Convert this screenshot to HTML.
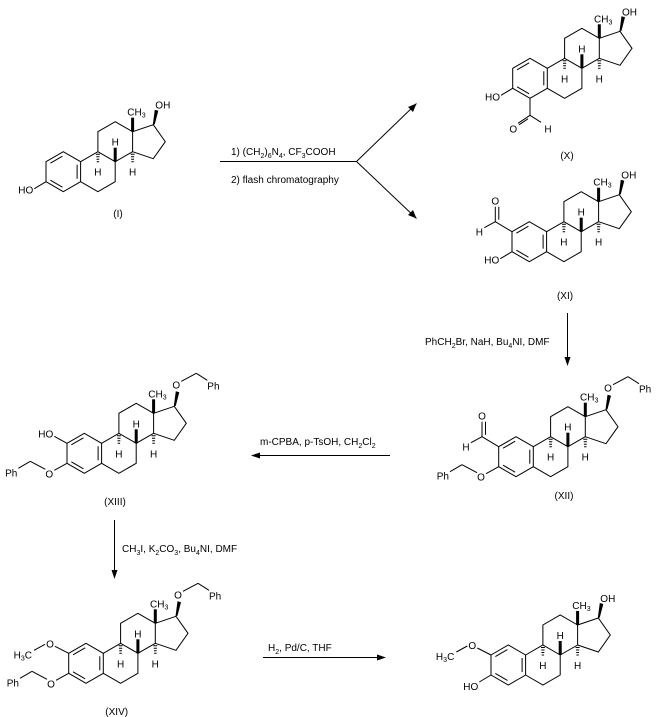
<!DOCTYPE html>
<html><head><meta charset="utf-8"><style>
html,body{margin:0;padding:0;background:#fff;}
svg{display:block;}
text{font-family:"Liberation Sans",Arial,sans-serif;font-size:10px;fill:#000;}
.sub{font-size:7px;}
</style></head><body>
<svg width="657" height="717" viewBox="0 0 657 717" xmlns="http://www.w3.org/2000/svg">
<defs>
<g id="core" stroke="#000" stroke-width="1" fill="none">
<polygon points="-17.3,-10 0,-20 17.3,-10 17.3,10 0,20 -17.3,10"/>
<line x1="-12.95" y1="-8.47" x2="-0.85" y2="-15.47"/>
<line x1="13.8" y1="-7" x2="13.8" y2="7"/>
<line x1="-12.95" y1="8.47" x2="-0.85" y2="15.47"/>
<polyline points="17.3,-10 34.6,-20 51.9,-10 51.9,10 34.6,20 17.3,10"/>
<polyline points="34.6,-20 34.6,-40 51.9,-50 69.3,-40 69.3,-20 51.9,-10"/>
<polyline points="69.3,-40 90,-47 102,-30 90,-13 69.3,-20"/>
<rect x="67.8" y="-54" width="3" height="14" fill="#000" stroke="none"/>
<rect x="50.4" y="-24" width="3" height="14" fill="#000" stroke="none"/>
<path d="M32.6,-17.5h4M33,-15h3.2M33.2,-12.5h2.8M33.4,-10h2.4" />
<path d="M67.3,-17.5h4M67.7,-15h3.2M67.9,-12.5h2.8M68.1,-10h2.4" />
<polygon points="89.5,-47 91.5,-47.5 95,-61 91.5,-62" fill="#000" stroke="none"/>
</g>
</defs>

<g stroke="#000" stroke-width="1" fill="none">
<!-- arrows -->
<line x1="220" y1="161.5" x2="356.5" y2="161.5"/>
<line x1="356.5" y1="161.5" x2="416.5" y2="103.5"/>
<line x1="356.5" y1="161.5" x2="416.5" y2="218.5"/>
<line x1="567.5" y1="313" x2="567.5" y2="362"/>
<line x1="390" y1="455.5" x2="255" y2="455.5"/>
<line x1="114.5" y1="520" x2="114.5" y2="575"/>
<line x1="263" y1="657.5" x2="382" y2="657.5"/>
</g>
<g fill="#000">
<polygon points="416.5,103.5 408,107 413,112"/>
<polygon points="416.5,218.5 413,210 408,215"/>
<polygon points="567.5,366 564.5,357 570.5,357"/>
<polygon points="251,455.5 260,452.5 260,458.5"/>
<polygon points="114.5,579 111.5,570 117.5,570"/>
<polygon points="386,657.5 377,654.5 377,660.5"/>
</g>
<text x="231" y="155">1) (CH<tspan class="sub" dy="3">2</tspan><tspan dy="-3">)</tspan><tspan class="sub" dy="3">6</tspan><tspan dy="-3">N</tspan><tspan class="sub" dy="3">4</tspan><tspan dy="-3">, CF</tspan><tspan class="sub" dy="3">3</tspan><tspan dy="-3">COOH</tspan></text>
<text x="231" y="183">2) flash chromatography</text>
<text x="425" y="345">PhCH<tspan class="sub" dy="3">2</tspan><tspan dy="-3">Br, NaH, Bu</tspan><tspan class="sub" dy="3">4</tspan><tspan dy="-3">NI, DMF</tspan></text>
<text x="260" y="445">m-CPBA, p-TsOH, CH<tspan class="sub" dy="3">2</tspan><tspan dy="-3">Cl</tspan><tspan class="sub" dy="3">2</tspan></text>
<text x="122" y="552">CH<tspan class="sub" dy="3">3</tspan><tspan dy="-3">I, K</tspan><tspan class="sub" dy="3">2</tspan><tspan dy="-3">CO</tspan><tspan class="sub" dy="3">3</tspan><tspan dy="-3">, Bu</tspan><tspan class="sub" dy="3">4</tspan><tspan dy="-3">NI, DMF</tspan></text>
<text x="268" y="651">H<tspan class="sub" dy="3">2</tspan><tspan dy="-3">, Pd/C, THF</tspan></text>

<!-- I -->
<g transform="translate(63.3,171.7)">
<use href="#core"/>
<g stroke="#000" fill="none"><line x1="-17.3" y1="10" x2="-29" y2="17"/></g>
<text x="-30" y="22" text-anchor="end">HO</text>
<text x="64" y="-56">CH<tspan class="sub" dy="2">3</tspan></text>
<text x="92" y="-63">OH</text>
<text x="51.9" y="-26" text-anchor="middle">H</text>
<text x="34.6" y="4" text-anchor="middle">H</text>
<text x="69.3" y="4" text-anchor="middle">H</text>
</g>
<text x="118" y="217" text-anchor="middle">(I)</text>

<!-- X -->
<g transform="translate(530,78.3)">
<use href="#core"/>
<g stroke="#000" fill="none">
<line x1="-17.3" y1="10" x2="-29" y2="17"/>
<line x1="0" y1="20" x2="0" y2="37"/>
<line x1="0" y1="37" x2="-12" y2="45"/>
<line x1="-2" y1="40.5" x2="-11" y2="46.5"/>
<line x1="0" y1="37" x2="11" y2="44"/>
</g>
<text x="-30" y="22" text-anchor="end">HO</text>
<text x="-16.7" y="54" text-anchor="middle">O</text>
<text x="18" y="54" text-anchor="middle">H</text>
<text x="64" y="-56">CH<tspan class="sub" dy="2">3</tspan></text>
<text x="92" y="-63">OH</text>
<text x="51.9" y="-26" text-anchor="middle">H</text>
<text x="34.6" y="4" text-anchor="middle">H</text>
<text x="69.3" y="4" text-anchor="middle">H</text>
</g>
<text x="567" y="159" text-anchor="middle">(X)</text>

<!-- XI -->
<g transform="translate(529.3,241.7)">
<use href="#core"/>
<g stroke="#000" fill="none">
<line x1="-17.3" y1="10" x2="-29" y2="17"/>
<line x1="-17.3" y1="-10" x2="-34" y2="-20"/>
<line x1="-34" y1="-20" x2="-34" y2="-35"/>
<line x1="-30.5" y1="-22" x2="-30.5" y2="-35"/>
<line x1="-34" y1="-20" x2="-45" y2="-14"/>
</g>
<text x="-30" y="22" text-anchor="end">HO</text>
<text x="-34" y="-37" text-anchor="middle">O</text>
<text x="-50" y="-6" text-anchor="middle">H</text>
<text x="64" y="-56">CH<tspan class="sub" dy="2">3</tspan></text>
<text x="92" y="-63">OH</text>
<text x="51.9" y="-26" text-anchor="middle">H</text>
<text x="34.6" y="4" text-anchor="middle">H</text>
<text x="69.3" y="4" text-anchor="middle">H</text>
</g>
<text x="565" y="299" text-anchor="middle">(XI)</text>

<!-- XII -->
<g transform="translate(516,456.7)">
<use href="#core"/>
<g stroke="#000" fill="none">
<line x1="-17.3" y1="10" x2="-30" y2="17"/>
<line x1="-39" y1="16" x2="-54" y2="8"/>
<line x1="-54" y1="8" x2="-66" y2="15"/>
<line x1="-17.3" y1="-10" x2="-34" y2="-20"/>
<line x1="-34" y1="-20" x2="-34" y2="-35"/>
<line x1="-30.5" y1="-22" x2="-30.5" y2="-35"/>
<line x1="-34" y1="-20" x2="-45" y2="-14"/>
<line x1="97" y1="-72" x2="112" y2="-80"/>
<line x1="112" y1="-80" x2="123" y2="-73"/>
</g>
<text x="-35" y="24" text-anchor="middle">O</text>
<text x="-67" y="23" text-anchor="end">Ph</text>
<text x="-34" y="-37" text-anchor="middle">O</text>
<text x="-50" y="-6" text-anchor="middle">H</text>
<text x="64" y="-56">CH<tspan class="sub" dy="2">3</tspan></text>
<text x="92" y="-65" text-anchor="middle">O</text>
<text x="123" y="-64">Ph</text>
<text x="51.9" y="-26" text-anchor="middle">H</text>
<text x="34.6" y="4" text-anchor="middle">H</text>
<text x="69.3" y="4" text-anchor="middle">H</text>
</g>
<text x="564" y="499" text-anchor="middle">(XII)</text>

<!-- XIII -->
<g transform="translate(84.3,453.3)">
<use href="#core"/>
<g stroke="#000" fill="none">
<line x1="-17.3" y1="-10" x2="-30" y2="-17"/>
<line x1="-17.3" y1="10" x2="-30" y2="17"/>
<line x1="-39" y1="16" x2="-54" y2="8"/>
<line x1="-54" y1="8" x2="-66" y2="15"/>
<line x1="97" y1="-72" x2="112" y2="-80"/>
<line x1="112" y1="-80" x2="123" y2="-73"/>
</g>
<text x="-31" y="-16" text-anchor="end">HO</text>
<text x="-35" y="24" text-anchor="middle">O</text>
<text x="-67" y="23" text-anchor="end">Ph</text>
<text x="64" y="-56">CH<tspan class="sub" dy="2">3</tspan></text>
<text x="92" y="-65" text-anchor="middle">O</text>
<text x="123" y="-64">Ph</text>
<text x="51.9" y="-26" text-anchor="middle">H</text>
<text x="34.6" y="4" text-anchor="middle">H</text>
<text x="69.3" y="4" text-anchor="middle">H</text>
</g>
<text x="115" y="505" text-anchor="middle">(XIII)</text>

<!-- XIV -->
<g transform="translate(86,663.3)">
<use href="#core"/>
<g stroke="#000" fill="none">
<line x1="-17.3" y1="-10" x2="-31" y2="-17"/>
<line x1="-41" y1="-19" x2="-52" y2="-13"/>
<line x1="-17.3" y1="10" x2="-30" y2="17"/>
<line x1="-39" y1="16" x2="-54" y2="8"/>
<line x1="-54" y1="8" x2="-66" y2="15"/>
<line x1="97" y1="-72" x2="112" y2="-80"/>
<line x1="112" y1="-80" x2="123" y2="-73"/>
</g>
<text x="-36" y="-16" text-anchor="middle">O</text>
<text x="-54" y="-5" text-anchor="end">H<tspan class="sub" dy="2">3</tspan><tspan dy="-2">C</tspan></text>
<text x="-35" y="24" text-anchor="middle">O</text>
<text x="-67" y="23" text-anchor="end">Ph</text>
<text x="64" y="-56">CH<tspan class="sub" dy="2">3</tspan></text>
<text x="92" y="-65" text-anchor="middle">O</text>
<text x="123" y="-64">Ph</text>
<text x="51.9" y="-26" text-anchor="middle">H</text>
<text x="34.6" y="4" text-anchor="middle">H</text>
<text x="69.3" y="4" text-anchor="middle">H</text>
</g>
<text x="116.7" y="715" text-anchor="middle">(XIV)</text>

<!-- final -->
<g transform="translate(508.3,665)">
<use href="#core"/>
<g stroke="#000" fill="none">
<line x1="-17.3" y1="-10" x2="-31" y2="-17"/>
<line x1="-41" y1="-19" x2="-52" y2="-13"/>
<line x1="-17.3" y1="10" x2="-29" y2="17"/>
</g>
<text x="-36" y="-16" text-anchor="middle">O</text>
<text x="-54" y="-5" text-anchor="end">H<tspan class="sub" dy="2">3</tspan><tspan dy="-2">C</tspan></text>
<text x="-30" y="25" text-anchor="end">HO</text>
<text x="64" y="-56">CH<tspan class="sub" dy="2">3</tspan></text>
<text x="92" y="-63">OH</text>
<text x="51.9" y="-26" text-anchor="middle">H</text>
<text x="34.6" y="4" text-anchor="middle">H</text>
<text x="69.3" y="4" text-anchor="middle">H</text>
</g>
</svg>
</body></html>
